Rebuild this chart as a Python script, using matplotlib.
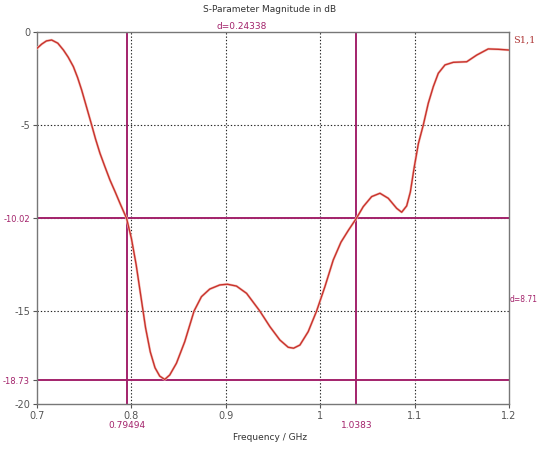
import numpy as np
import matplotlib
matplotlib.use("Agg")
import matplotlib.pyplot as plt
import matplotlib.transforms as mtransforms

# S1,1 magnitude (GHz, dB)
freq = [0.700, 0.705, 0.710, 0.7155, 0.722, 0.728, 0.733, 0.7385, 0.743, 0.7473,
        0.752, 0.7579, 0.762, 0.7667, 0.772, 0.7773, 0.783, 0.7879, 0.7949, 0.800,
        0.805, 0.810, 0.815, 0.820, 0.825, 0.830, 0.8353, 0.8406, 0.8477, 0.8565, 0.8664,
        0.8742, 0.883, 0.8936, 0.9016, 0.9113, 0.922, 0.936, 0.9467, 0.9573, 0.9661,
        0.9718, 0.9785, 0.9873, 0.9962, 1.005, 1.0138, 1.022, 1.030, 1.0383, 1.0456,
        1.0545, 1.0633, 1.0721, 1.081, 1.0863, 1.0916, 1.0955, 1.0995, 1.104, 1.1092,
        1.1145, 1.1198, 1.1251, 1.1322, 1.141, 1.1552, 1.1658, 1.178, 1.1888, 1.200]
s11 = [-0.88, -0.65, -0.48, -0.43, -0.60, -0.97, -1.35, -1.86, -2.45, -3.12,
       -3.95, -5.00, -5.75, -6.52, -7.25, -7.96, -8.62, -9.21, -10.02, -11.10,
       -12.50, -14.20, -15.90, -17.20, -18.05, -18.50, -18.68, -18.44, -17.81, -16.65, -15.00,
       -14.23, -13.82, -13.60, -13.56, -13.66, -14.05, -15.00, -15.84, -16.56, -16.95,
       -17.00, -16.83, -16.11, -15.00, -13.69, -12.26, -11.30, -10.65, -10.02, -9.39,
       -8.85, -8.67, -8.94, -9.48, -9.69, -9.35, -8.60, -7.30, -6.00, -5.00,
       -3.83, -2.94, -2.22, -1.77, -1.63, -1.60, -1.24, -0.91, -0.93, -0.97]

marker_x = [0.79494, 1.0383]
marker_x_labels = ["0.79494", "1.0383"]
marker_y = [-10.02, -18.73]
marker_y_labels = ["-10.02", "-18.73"]
dx_label = "d=0.24338"
dy_label = "d=8.71"
xticks = [0.7, 0.8, 0.9, 1.0, 1.1, 1.2]
xtick_labels = ["0.7", "0.8", "0.9", "1", "1.1", "1.2"]
yticks = [0, -5, -15, -20]
ytick_labels = ["0", "-5", "-15", "-20"]

mcol = "#a3236b"
tcol = "#555555"

fig = plt.figure(figsize=(5.39, 4.49), dpi=100)
ax = fig.add_axes([37 / 539, 1 - 404 / 449, 472 / 539, 372 / 449])

ax.set_xlim(0.7, 1.2)
ax.set_ylim(-20, 0)

# dotted grid
for x in xticks[1:-1]:
    ax.axvline(x, color="#222222", lw=0.8, ls=(0, (1.2, 1.8)), zorder=1)
for y in [-5, -10, -15]:
    ax.axhline(y, color="#222222", lw=0.8, ls=(0, (1.2, 1.8)), zorder=1)

# markers
for x in marker_x:
    ax.axvline(x, color=mcol, lw=1.4, zorder=2)
for y in marker_y:
    ax.axhline(y, color=mcol, lw=1.4, zorder=2)

ax.plot(freq, s11, color="#f4c2bb", lw=1.8, zorder=3)
ax.plot(freq, s11, color="#c8322c", lw=1.0, zorder=4)

ax.set_xticks(xticks)
ax.set_xticklabels(xtick_labels)
ax.set_yticks(yticks + marker_y)
ax.set_yticklabels(ytick_labels + marker_y_labels)
ax.tick_params(axis="both", labelsize=7, colors=tcol, length=3, width=0.8, pad=2)
for lab in ax.get_yticklabels()[4:]:
    lab.set_color(mcol)
    lab.set_fontsize(6)

for s in ax.spines.values():
    s.set_color("#777777")
    s.set_linewidth(1.0)

# marker readouts
trx = mtransforms.blended_transform_factory(ax.transData, ax.transAxes)
for x, lab in zip(marker_x, marker_x_labels):
    ax.text(x, -0.045, lab, transform=trx, ha="center", va="top",
            fontsize=6.5, color=mcol)
ax.text(np.mean(marker_x), 1.004, dx_label, transform=trx,
        ha="center", va="bottom", fontsize=6.5, color=mcol)
try_ = mtransforms.blended_transform_factory(ax.transAxes, ax.transData)
ax.text(1.001, np.mean(marker_y), dy_label, transform=try_,
        ha="left", va="center", fontsize=5.5, color=mcol)
ax.text(1.008, 0.978, "S1,1", transform=ax.transAxes, ha="left", va="center",
        fontsize=7, color="#b03a3a", family="DejaVu Serif")

fig.text(270 / 539, 1 - 10 / 449, "S-Parameter Magnitude in dB", ha="center", va="center",
         fontsize=6.5, color="#333333")
fig.text(270 / 539, 1 - 437 / 449, "Frequency / GHz", ha="center", va="center",
         fontsize=6.5, color="#333333")

fig.savefig("out.png", dpi=100)
